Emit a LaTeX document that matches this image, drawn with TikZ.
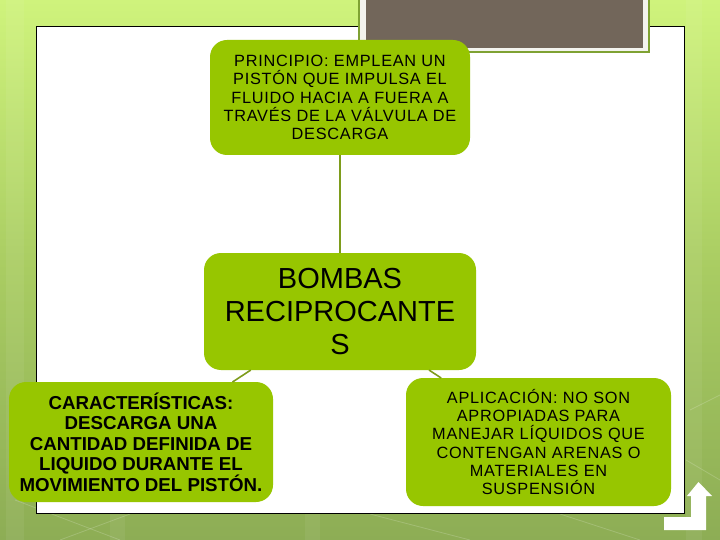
\documentclass[tikz,border=0pt]{standalone}
\usepackage{fontspec}
\setmainfont{Liberation Sans}
\newfontfamily\spacedsans[LetterSpace=4.5]{Liberation Sans}
\definecolor{boxgreen}{HTML}{97C600}
\definecolor{linkgreen}{HTML}{7E9C1C}
\definecolor{bgtop}{HTML}{CFF37C}
\definecolor{bgmid}{HTML}{A9CC62}
\definecolor{bgbot}{HTML}{8DAD55}
\definecolor{taupe}{HTML}{72665A}
\definecolor{frameedge}{HTML}{7FA233}
\definecolor{framefill}{HTML}{F3F3EE}
\tikzset{
  x=1pt,y=-1pt,
  greenbox/.style={fill=boxgreen,rounded corners=17pt,inner sep=0pt,text=black,align=center,anchor=center},
  plaintext/.style={font=\spacedsans\fontsize{16.3}{18.3}\selectfont},
  titletext/.style={font=\fontsize{29}{33}\selectfont},
  boldtext/.style={font=\fontsize{18.7}{20.5}\selectfont\bfseries},
  link/.style={draw=linkgreen,line width=1.6pt},
  streak/.style={draw=white,opacity=.18,line width=.8pt},
  band/.style={fill=white,opacity=.06,draw=none}
}
\begin{document}
\begin{tikzpicture}
\useasboundingbox (0,0) rectangle (720,540);
% background
\shade[top color=bgtop,bottom color=bgbot,middle color=bgmid] (0,0) rectangle (720,540);
\fill[band] (6,0) rectangle (24,540);
\fill[band] (686,0) rectangle (702,540);
\fill[band] (110,514) rectangle (125,540);
\fill[band] (305,514) rectangle (320,540);
\draw[streak] (15,500) -- (120,540);
\draw[streak] (130,514) -- (60,540);
\draw[streak] (370,514) -- (470,540);
\draw[streak] (560,514) -- (640,540);
\draw[streak] (690,410) -- (720,395);
\draw[streak] (686,460) -- (720,480);
% panel
\fill[white,draw=black,line width=.9pt] (36.5,26.5) rectangle (684.5,513);
% framed block at top
\fill[frameedge] (358,-2) rectangle (650,53);
\fill[framefill] (360,-2) rectangle (648,51);
\fill[taupe] (366,-2) rectangle (643,48);
% nodes
\node[greenbox,plaintext,minimum width=260pt,minimum height=115pt] (principio) at (340,97.5)
  {PRINCIPIO: EMPLEAN UN\\PISTÓN QUE IMPULSA EL\\FLUIDO HACIA A FUERA A\\TRAVÉS DE LA VÁLVULA DE\\DESCARGA};
\node[greenbox,titletext,minimum width=272pt,minimum height=117pt] (bombas) at (340,311.5)
  {BOMBAS\\RECIPROCANTE\\S};
\node[greenbox,boldtext,minimum width=264pt,minimum height=120pt] (carac) at (141,442)
  {CARACTERÍSTICAS:\\DESCARGA UNA\\CANTIDAD DEFINIDA DE\\LIQUIDO DURANTE EL\\MOVIMIENTO DEL PISTÓN.};
\node[greenbox,plaintext,minimum width=265pt,minimum height=128pt] (aplic) at (538.5,442)
  {APLICACIÓN: NO SON\\APROPIADAS PARA\\MANEJAR LÍQUIDOS QUE\\CONTENGAN ARENAS O\\MATERIALES EN\\SUSPENSIÓN};
% connectors
\draw[link] (principio.south) -- (bombas.north);
\coordinate (lstart) at (intersection cs:first line={(bombas.center)--(carac.center)},second line={(0,370)--(720,370)});
\coordinate (lend) at (intersection cs:first line={(bombas.center)--(carac.center)},second line={(0,382)--(720,382)});
\coordinate (rstart) at (intersection cs:first line={(bombas.center)--(aplic.center)},second line={(0,370)--(720,370)});
\coordinate (rend) at (intersection cs:first line={(bombas.center)--(aplic.center)},second line={(0,378)--(720,378)});
\draw[link] (lstart) -- (lend);
\draw[link] (rstart) -- (rend);
% return arrow
\fill[white] (664,517) -- (691,517) -- (691,496) -- (687,496) -- (698.5,482) -- (712,496) -- (706,496) -- (706,530) -- (664,530) -- cycle;
\end{tikzpicture}
\end{document}
